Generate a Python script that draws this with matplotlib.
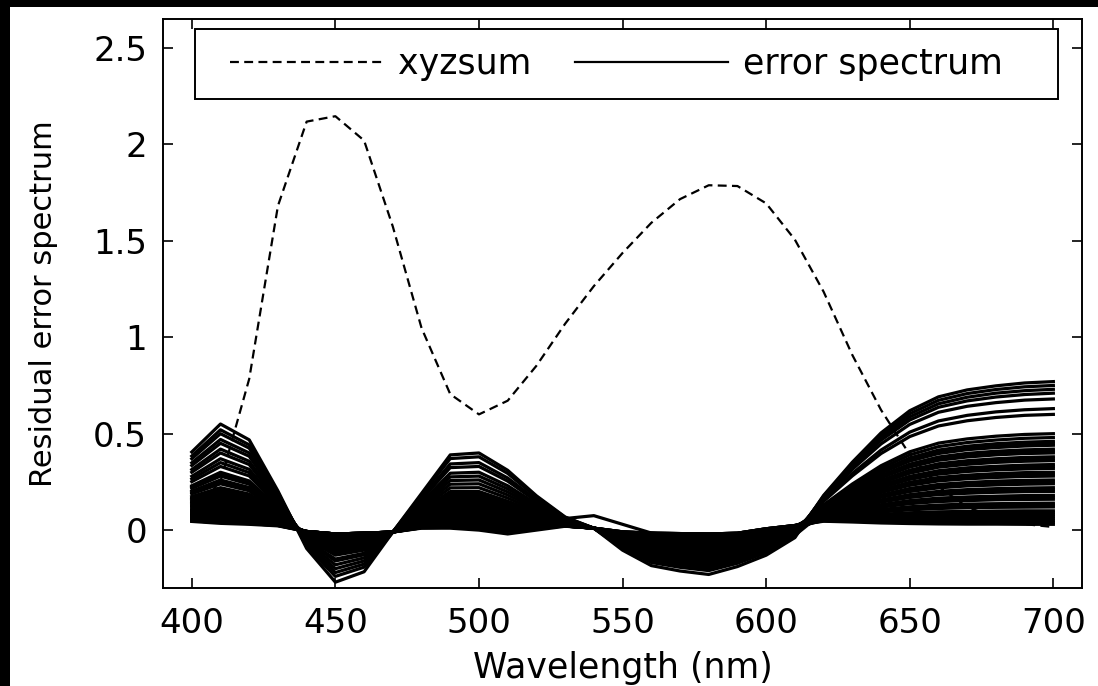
import matplotlib
matplotlib.use("Agg")
import matplotlib.pyplot as plt
from matplotlib.patches import Rectangle
from matplotlib.lines import Line2D
from matplotlib.ticker import FuncFormatter

plt.rcParams['font.family'] = ['DejaVu Sans']

# wavelength grid (nm)
wavelengths = [400, 410, 420, 430, 440, 450, 460, 470, 480, 490, 500,
               510, 520, 530, 540, 550, 560, 570, 580, 590, 600,
               610, 620, 630, 640, 650, 660, 670, 680, 690, 700]

# sum of the x, y, z colour matching functions
xyzsum = [0.083, 0.252, 0.784, 1.681, 2.118, 2.146, 2.020, 1.574, 1.048, 0.705, 0.600,
          0.671, 0.852, 1.070, 1.265, 1.437, 1.593, 1.716, 1.788, 1.784, 1.694,
          1.506, 1.236, 0.908, 0.623, 0.391, 0.226, 0.119, 0.064, 0.031, 0.016]

# residual error spectra, one row per sample
error_spectra = [
    [0.405, 0.55, 0.468, 0.203, -0.095, -0.27, -0.216, -0.01, 0.19, 0.39, 0.40, 0.31, 0.178, 0.068, 0.01, -0.09, -0.16, -0.184, -0.20, -0.164, -0.11, -0.03, 0.172, 0.336, 0.478, 0.587, 0.655, 0.689, 0.710, 0.723, 0.73],
    [0.384, 0.52, 0.442, 0.192, -0.084, -0.24, -0.192, -0.01, 0.181, 0.371, 0.38, 0.294, 0.17, 0.066, 0.01, -0.104, -0.184, -0.212, -0.23, -0.189, -0.13, -0.039, 0.18, 0.352, 0.504, 0.619, 0.691, 0.727, 0.748, 0.763, 0.77],
    [0.37, 0.50, 0.425, 0.185, -0.077, -0.22, -0.176, -0.01, 0.168, 0.343, 0.35, 0.27, 0.157, 0.062, 0.01, -0.068, -0.12, -0.138, -0.15, -0.123, -0.078, -0.015, 0.131, 0.239, 0.334, 0.406, 0.451, 0.473, 0.487, 0.496, 0.50],
    [0.349, 0.47, 0.40, 0.175, -0.07, -0.20, -0.16, -0.01, 0.159, 0.324, 0.33, 0.254, 0.149, 0.06, 0.01, -0.095, -0.168, -0.193, -0.21, -0.172, -0.117, -0.033, 0.176, 0.344, 0.491, 0.603, 0.673, 0.708, 0.729, 0.743, 0.75],
    [0.335, 0.45, 0.383, 0.168, -0.063, -0.18, -0.144, -0.01, 0.145, 0.295, 0.30, 0.23, 0.136, 0.056, 0.01, -0.054, -0.096, -0.11, -0.12, -0.098, -0.058, -0.006, 0.117, 0.205, 0.283, 0.342, 0.379, 0.398, 0.409, 0.416, 0.42],
    [0.314, 0.42, 0.357, 0.157, -0.056, -0.16, -0.128, -0.01, 0.136, 0.276, 0.28, 0.214, 0.128, 0.054, 0.01, -0.081, -0.144, -0.166, -0.18, -0.148, -0.097, -0.024, 0.163, 0.315, 0.447, 0.548, 0.611, 0.642, 0.661, 0.674, 0.68],
    [0.30, 0.40, 0.34, 0.15, -0.053, -0.15, -0.12, -0.01, 0.127, 0.257, 0.26, 0.198, 0.119, 0.051, 0.01, -0.045, -0.08, -0.092, -0.10, -0.082, -0.045, 0.0, 0.106, 0.18, 0.245, 0.295, 0.326, 0.341, 0.351, 0.357, 0.36],
    [0.279, 0.37, 0.315, 0.14, -0.046, -0.13, -0.104, -0.01, 0.118, 0.238, 0.24, 0.182, 0.111, 0.049, 0.01, -0.077, -0.136, -0.156, -0.17, -0.139, -0.091, -0.021, 0.169, 0.327, 0.466, 0.571, 0.637, 0.67, 0.69, 0.703, 0.71],
    [0.265, 0.35, 0.298, 0.133, -0.042, -0.12, -0.096, -0.01, 0.109, 0.219, 0.22, 0.166, 0.102, 0.046, 0.01, -0.063, -0.112, -0.129, -0.14, -0.115, -0.071, -0.012, 0.088, 0.138, 0.182, 0.216, 0.237, 0.247, 0.254, 0.258, 0.26],
    [0.251, 0.33, 0.281, 0.126, -0.039, -0.11, -0.088, -0.01, 0.10, 0.20, 0.20, 0.15, 0.094, 0.044, 0.01, -0.072, -0.128, -0.147, -0.16, -0.131, -0.084, -0.018, 0.149, 0.281, 0.397, 0.485, 0.54, 0.567, 0.584, 0.595, 0.60],
    [0.23, 0.30, 0.255, 0.115, -0.035, -0.10, -0.08, -0.01, 0.096, 0.191, 0.19, 0.142, 0.09, 0.043, 0.01, -0.036, -0.064, -0.074, -0.08, -0.066, -0.032, 0.006, 0.124, 0.222, 0.308, 0.374, 0.415, 0.435, 0.448, 0.456, 0.46],
    [0.216, 0.28, 0.238, 0.108, -0.032, -0.09, -0.072, -0.01, 0.087, 0.172, 0.17, 0.126, 0.081, 0.04, 0.01, -0.059, -0.104, -0.12, -0.13, -0.107, -0.065, -0.009, 0.154, 0.294, 0.415, 0.508, 0.566, 0.595, 0.613, 0.624, 0.63],
    [0.202, 0.26, 0.221, 0.101, -0.028, -0.08, -0.064, -0.01, 0.082, 0.162, 0.16, 0.118, 0.077, 0.039, 0.01, -0.05, -0.088, -0.101, -0.11, -0.09, -0.052, -0.003, 0.07, 0.096, 0.119, 0.137, 0.148, 0.153, 0.157, 0.159, 0.16],
    [0.188, 0.24, 0.204, 0.094, -0.025, -0.07, -0.056, -0.01, 0.078, 0.153, 0.15, 0.11, 0.073, 0.038, 0.01, -0.041, -0.072, -0.083, -0.09, -0.074, -0.039, 0.003, 0.127, 0.231, 0.321, 0.39, 0.433, 0.454, 0.467, 0.476, 0.48],
    [0.174, 0.22, 0.187, 0.087, -0.025, -0.07, -0.056, -0.01, 0.069, 0.134, 0.13, 0.094, 0.065, 0.036, 0.01, -0.032, -0.056, -0.064, -0.07, -0.057, -0.026, 0.009, 0.109, 0.189, 0.258, 0.311, 0.344, 0.36, 0.37, 0.377, 0.38],
    [0.16, 0.20, 0.17, 0.08, -0.021, -0.06, -0.048, -0.01, 0.064, 0.124, 0.12, 0.086, 0.06, 0.034, 0.01, -0.054, -0.096, -0.11, -0.12, -0.098, -0.058, -0.006, 0.12, 0.214, 0.296, 0.358, 0.397, 0.417, 0.428, 0.436, 0.44],
    [0.153, 0.19, 0.162, 0.077, -0.021, -0.06, -0.048, -0.01, 0.06, 0.115, 0.11, 0.078, 0.056, 0.033, 0.01, -0.027, -0.048, -0.055, -0.06, -0.049, -0.019, 0.012, 0.095, 0.155, 0.208, 0.248, 0.273, 0.285, 0.293, 0.298, 0.30],
    [0.139, 0.17, 0.145, 0.07, -0.018, -0.05, -0.04, -0.01, 0.055, 0.105, 0.10, 0.07, 0.052, 0.032, 0.01, -0.045, -0.08, -0.092, -0.10, -0.082, -0.045, 0.0, 0.113, 0.197, 0.271, 0.327, 0.362, 0.379, 0.39, 0.397, 0.40],
    [0.132, 0.16, 0.136, 0.066, -0.018, -0.05, -0.04, -0.01, 0.051, 0.096, 0.09, 0.062, 0.048, 0.031, 0.01, -0.036, -0.064, -0.074, -0.08, -0.066, -0.032, 0.006, 0.059, 0.071, 0.082, 0.09, 0.095, 0.097, 0.099, 0.10, 0.10],
    [0.125, 0.15, 0.128, 0.063, -0.014, -0.04, -0.032, -0.01, 0.046, 0.086, 0.08, 0.054, 0.044, 0.03, 0.01, -0.023, -0.04, -0.046, -0.05, -0.041, -0.013, 0.015, 0.102, 0.172, 0.233, 0.279, 0.308, 0.323, 0.331, 0.337, 0.34],
    [0.111, 0.13, 0.111, 0.056, -0.014, -0.04, -0.032, -0.01, 0.042, 0.077, 0.07, 0.046, 0.039, 0.028, 0.01, -0.032, -0.056, -0.064, -0.07, -0.057, -0.026, 0.009, 0.081, 0.121, 0.157, 0.184, 0.201, 0.21, 0.215, 0.218, 0.22],
    [0.104, 0.12, 0.102, 0.052, -0.012, -0.035, -0.028, -0.01, 0.037, 0.067, 0.06, 0.038, 0.035, 0.06, 0.075, 0.03, -0.015, -0.03, -0.04, -0.033, -0.006, 0.018, 0.099, 0.163, 0.22, 0.263, 0.29, 0.304, 0.312, 0.317, 0.32],
    [0.097, 0.11, 0.094, 0.049, -0.011, -0.03, -0.024, -0.01, 0.033, 0.058, 0.05, 0.03, 0.031, 0.026, 0.01, -0.027, -0.048, -0.055, -0.06, -0.049, -0.019, 0.012, 0.052, 0.054, 0.056, 0.058, 0.059, 0.059, 0.06, 0.06, 0.06],
    [0.09, 0.10, 0.085, 0.045, -0.011, -0.03, -0.024, -0.01, 0.03, 0.053, 0.045, 0.026, 0.029, 0.025, 0.01, -0.023, -0.04, -0.046, -0.05, -0.041, -0.013, 0.015, 0.091, 0.147, 0.195, 0.232, 0.255, 0.266, 0.273, 0.278, 0.28],
    [0.083, 0.09, 0.077, 0.042, -0.009, -0.025, -0.02, -0.01, 0.028, 0.048, 0.04, 0.022, 0.027, 0.025, 0.01, -0.014, -0.024, -0.028, -0.03, -0.025, 0.001, 0.021, 0.073, 0.105, 0.132, 0.153, 0.166, 0.172, 0.176, 0.179, 0.18],
    [0.076, 0.08, 0.068, 0.038, -0.009, -0.025, -0.02, -0.01, 0.024, 0.039, 0.03, 0.014, 0.023, 0.024, 0.01, -0.018, -0.032, -0.037, -0.04, -0.033, -0.006, 0.018, 0.084, 0.13, 0.17, 0.20, 0.219, 0.229, 0.234, 0.238, 0.24],
    [0.069, 0.07, 0.06, 0.035, -0.007, -0.02, -0.016, -0.01, 0.021, 0.034, 0.025, 0.01, 0.021, 0.023, 0.01, -0.014, -0.024, -0.028, -0.03, -0.025, 0.001, 0.021, 0.063, 0.079, 0.094, 0.105, 0.112, 0.116, 0.118, 0.119, 0.12],
    [0.062, 0.06, 0.051, 0.031, -0.007, -0.02, -0.016, -0.01, 0.019, 0.029, 0.02, 0.006, 0.018, 0.022, 0.01, -0.023, -0.04, -0.046, -0.05, -0.041, -0.013, 0.015, 0.077, 0.113, 0.145, 0.169, 0.184, 0.191, 0.196, 0.199, 0.20],
    [0.055, 0.05, 0.043, 0.028, -0.007, -0.02, -0.016, -0.01, 0.017, 0.024, 0.015, 0.002, 0.016, 0.022, 0.01, -0.009, -0.016, -0.018, -0.02, -0.016, 0.007, 0.024, 0.046, 0.042, 0.037, 0.034, 0.032, 0.031, 0.031, 0.03, 0.03],
    [0.055, 0.05, 0.043, 0.028, -0.007, -0.02, -0.016, -0.01, 0.015, 0.02, 0.01, -0.002, 0.014, 0.021, 0.01, -0.014, -0.024, -0.028, -0.03, -0.025, 0.001, 0.021, 0.066, 0.088, 0.107, 0.121, 0.13, 0.135, 0.137, 0.139, 0.14],
    [0.048, 0.04, 0.034, 0.024, -0.007, -0.02, -0.016, -0.01, 0.012, 0.015, 0.005, -0.006, 0.012, 0.021, 0.01, -0.009, -0.016, -0.018, -0.02, -0.016, 0.007, 0.024, 0.055, 0.063, 0.069, 0.074, 0.077, 0.078, 0.079, 0.08, 0.08],
    [0.048, 0.04, 0.034, 0.024, -0.007, -0.02, -0.016, -0.01, 0.01, 0.01, 0.0, -0.02, 0.0, 0.02, 0.01, -0.009, -0.016, -0.018, -0.02, -0.016, 0.007, 0.024, 0.048, 0.046, 0.044, 0.042, 0.041, 0.041, 0.04, 0.04, 0.04],
    [0.223, 0.29, 0.247, 0.112, -0.033, -0.095, -0.076, -0.01, 0.091, 0.181, 0.18, 0.134, 0.086, 0.042, 0.01, -0.086, -0.152, -0.175, -0.19, -0.156, -0.104, -0.027, 0.093, 0.151, 0.201, 0.24, 0.264, 0.276, 0.283, 0.288, 0.29],
    [0.195, 0.25, 0.213, 0.098, -0.026, -0.075, -0.06, -0.01, 0.073, 0.143, 0.14, 0.102, 0.069, 0.037, 0.01, -0.068, -0.12, -0.138, -0.15, -0.123, -0.078, -0.015, 0.122, 0.218, 0.302, 0.366, 0.406, 0.426, 0.438, 0.446, 0.45],
    [0.167, 0.21, 0.179, 0.084, -0.023, -0.065, -0.052, -0.01, 0.055, 0.105, 0.10, 0.07, 0.052, 0.032, 0.01, -0.038, -0.068, -0.078, -0.085, -0.07, -0.035, 0.005, 0.064, 0.084, 0.10, 0.113, 0.121, 0.125, 0.128, 0.129, 0.13],
    [0.146, 0.18, 0.153, 0.073, -0.019, -0.055, -0.044, -0.01, 0.048, 0.091, 0.085, 0.058, 0.046, 0.03, 0.01, -0.05, -0.088, -0.101, -0.11, -0.09, -0.052, -0.003, 0.108, 0.184, 0.252, 0.303, 0.335, 0.351, 0.36, 0.367, 0.37],
    [0.118, 0.14, 0.119, 0.059, -0.016, -0.045, -0.036, -0.01, 0.039, 0.072, 0.065, 0.042, 0.037, 0.028, 0.01, -0.02, -0.036, -0.041, -0.045, -0.037, -0.009, 0.017, 0.079, 0.117, 0.151, 0.176, 0.192, 0.20, 0.205, 0.208, 0.21],
    [0.101, 0.115, 0.098, 0.05, -0.014, -0.04, -0.032, -0.01, 0.035, 0.062, 0.055, 0.034, 0.033, 0.027, 0.01, -0.029, -0.052, -0.06, -0.065, -0.053, -0.022, 0.011, 0.115, 0.201, 0.277, 0.334, 0.37, 0.388, 0.399, 0.406, 0.41],
    [0.087, 0.095, 0.081, 0.043, -0.011, -0.03, -0.024, -0.01, 0.026, 0.043, 0.035, 0.018, 0.025, 0.024, 0.01, -0.016, -0.028, -0.032, -0.035, -0.029, -0.003, 0.02, 0.057, 0.067, 0.075, 0.082, 0.086, 0.088, 0.089, 0.09, 0.09],
    [0.08, 0.085, 0.072, 0.04, -0.01, -0.028, -0.022, -0.01, 0.024, 0.039, 0.03, 0.014, 0.023, 0.024, 0.01, -0.025, -0.044, -0.051, -0.055, -0.045, -0.016, 0.014, 0.10, 0.168, 0.226, 0.271, 0.299, 0.313, 0.322, 0.327, 0.33],
    [0.073, 0.075, 0.064, 0.036, -0.008, -0.022, -0.018, -0.01, 0.019, 0.029, 0.02, 0.006, 0.018, 0.022, 0.01, -0.011, -0.02, -0.023, -0.025, -0.021, 0.004, 0.023, 0.072, 0.10, 0.126, 0.145, 0.157, 0.163, 0.166, 0.169, 0.17],
    [0.066, 0.065, 0.055, 0.033, -0.007, -0.02, -0.016, -0.01, 0.017, 0.024, 0.015, 0.002, 0.016, 0.022, 0.01, -0.02, -0.036, -0.041, -0.045, -0.037, -0.009, 0.017, 0.086, 0.134, 0.176, 0.208, 0.228, 0.238, 0.244, 0.248, 0.25],
    [0.052, 0.045, 0.038, 0.026, -0.007, -0.02, -0.016, -0.01, 0.015, 0.02, 0.01, -0.002, 0.014, 0.021, 0.01, -0.009, -0.016, -0.018, -0.02, -0.016, 0.007, 0.024, 0.05, 0.05, 0.05, 0.05, 0.05, 0.05, 0.05, 0.05, 0.05],
    [0.045, 0.035, 0.03, 0.022, -0.007, -0.02, -0.016, -0.01, 0.012, 0.015, 0.005, -0.006, 0.012, 0.021, 0.01, -0.014, -0.024, -0.028, -0.03, -0.025, 0.001, 0.021, 0.054, 0.058, 0.063, 0.066, 0.068, 0.069, 0.069, 0.07, 0.07],
]

x_ticks = [400, 450, 500, 550, 600, 650, 700]
y_ticks = [0, 0.5, 1, 1.5, 2, 2.5]

fig = plt.figure(figsize=(10.98, 6.86), dpi=100, facecolor="black")
# white page with the black strip on the left and top (drawn under the axes)
fig.patches.append(Rectangle((10 / 1098, 0), 1 - 10 / 1098, 1 - 7 / 686, transform=fig.transFigure,
                             facecolor="white", edgecolor="none", zorder=-1))
ax = fig.add_axes([0.1485, 0.1429, 0.837, 0.8294])
ax.set_facecolor("white")

dash = (4.0, 2.4)
ax.plot(wavelengths, xyzsum, color="black", lw=1.6, dashes=dash, zorder=1)
for spec in error_spectra:
    ax.plot(wavelengths, spec, color="black", lw=2.3, zorder=2)

ax.set_xlim(390, 710)
ax.set_ylim(-0.3, 2.65)
ax.set_xticks(x_ticks)
ax.set_yticks(y_ticks)
ax.yaxis.set_major_formatter(FuncFormatter(lambda v, p: "%g" % v))
ax.tick_params(direction="in", length=7, width=1.2, top=True, right=True, labelsize=24.5)
ax.tick_params(axis="y", pad=11.5)
ax.tick_params(axis="x", pad=13.5)
for sp in ax.spines.values():
    sp.set_linewidth(1.4)

ax.set_xlabel("Wavelength (nm)", fontsize=25, labelpad=8)
ax.set_ylabel("Residual error spectrum", fontsize=22, labelpad=25)

# legend box
ax.add_patch(Rectangle((0.0348, 0.8594), 0.9391, 0.1230, transform=ax.transAxes,
                       facecolor="white", edgecolor="black", lw=1.4, zorder=4))
handles = [Line2D([], [], color="black", lw=1.6, dashes=dash),
           Line2D([], [], color="black", lw=1.6)]
leg = ax.legend(handles, ["xyzsum", "error spectrum"], ncol=2, frameon=False,
                loc="center left", bbox_to_anchor=(0.0729, 0.921), borderpad=0, borderaxespad=0,
                handlelength=4.41, handletextpad=0.43, columnspacing=1.24, fontsize=25)
leg.set_zorder(5)

fig.savefig("out.png", dpi=100)
